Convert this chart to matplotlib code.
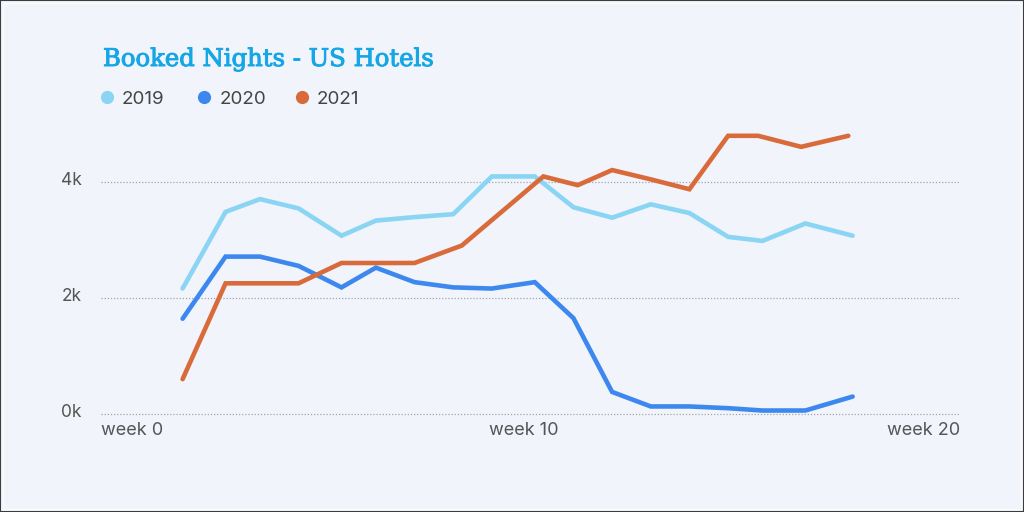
import matplotlib
matplotlib.use("Agg")
import matplotlib.pyplot as plt
import matplotlib.patheffects as pe
from matplotlib.patches import Rectangle
from matplotlib.transforms import ScaledTranslation

# ---- data ----
weeks = [1.9, 2.9, 3.7, 4.6, 5.6, 6.4, 7.3, 8.2, 9.1, 10.1, 11.0, 11.9, 12.8, 13.7, 14.6, 15.4, 16.4, 17.5]
nights_2019 = [2.16, 3.48, 3.70, 3.54, 3.07, 3.33, 3.39, 3.44, 4.09, 4.09, 3.56, 3.38, 3.61, 3.46, 3.05, 2.98, 3.28, 3.07]
nights_2020 = [1.64, 2.71, 2.71, 2.55, 2.18, 2.52, 2.27, 2.18, 2.16, 2.27, 1.65, 0.38, 0.13, 0.13, 0.10, 0.06, 0.06, 0.30]
weeks_2021 = [1.9, 2.9, 3.7, 4.6, 5.6, 6.4, 7.3, 8.4, 10.3, 11.1, 11.9, 12.8, 13.7, 14.6, 15.3, 16.3, 17.4]
nights_2021 = [0.60, 2.25, 2.25, 2.25, 2.60, 2.60, 2.60, 2.90, 4.09, 3.94, 4.20, 4.04, 3.87, 4.79, 4.79, 4.60, 4.79]

series_names = ["2019", "2020", "2021"]
colors = ["#8ad5f3", "#3d88ef", "#d96b3b"]
x_ticks = [0, 10, 20]
x_ticklabels = ["week 0", "week 10", "week 20"]
y_ticks = [0, 2, 4]
y_ticklabels = ["0k", "2k", "4k"]
title = "Booked Nights - US Hotels"

BG = "#f1f4fb"
W, H = 1024, 512
fig = plt.figure(figsize=(W / 100, H / 100), dpi=100, facecolor=BG)

# axes placement in pixels
left_px, right_px = 101, 960
bottom_px, top_px = 414, 123.6
ax = fig.add_axes([left_px / W, (H - bottom_px) / H,
                   (right_px - left_px) / W, (bottom_px - top_px) / H])
ax.set_facecolor(BG)
ax.set_xlim(0, 20)
ax.set_ylim(0, 5)

for s in ax.spines.values():
    s.set_visible(False)

# gridlines
for yv in y_ticks:
    ax.axhline(yv, color="#a3a5aa", linestyle=(0, (1, 1.5)), linewidth=0.9, zorder=1, clip_on=False)

lw = 3.3
ax.plot(weeks, nights_2019, color=colors[0], lw=lw, solid_joinstyle="miter", solid_capstyle="round", zorder=3)
ax.plot(weeks, nights_2020, color=colors[1], lw=lw, solid_joinstyle="miter", solid_capstyle="round", zorder=3)
ax.plot(weeks_2021, nights_2021, color=colors[2], lw=lw, solid_joinstyle="miter", solid_capstyle="round", zorder=4)

tick_font = "Inter"
ax.set_xticks(x_ticks)
ax.set_xticklabels(x_ticklabels, fontsize=13, color="#555555", family=tick_font)
ax.tick_params(axis="x", length=0, pad=6)
xl = ax.get_xticklabels()
xl[0].set_horizontalalignment("left")
xl[-1].set_horizontalalignment("right")
xl[1].set_transform(xl[1].get_transform() + ScaledTranslation(-7 / 100, 0, fig.dpi_scale_trans))

ax.set_yticks(y_ticks)
ax.set_yticklabels(y_ticklabels, fontsize=12.5, color="#555555", family=tick_font)
ax.tick_params(axis="y", length=0, pad=14)
for lab in ax.get_yticklabels():
    lab.set_transform(lab.get_transform() + ScaledTranslation(0, 3.5 / 100, fig.dpi_scale_trans))

# title
fig.text(103 / W, (H - 66) / H, title, family="DejaVu Serif",
         fontsize=17.5, color="#15a6e6", va="baseline", ha="left",
         path_effects=[pe.withStroke(linewidth=0.7, foreground="#15a6e6")])

# legend
leg_dot_x = [106.5, 204.3, 301.7]
for name, c, dx in zip(series_names, colors, leg_dot_x):
    fig.add_artist(plt.Line2D([dx / W], [(H - 97) / H], marker="o", markersize=9.5,
                              color=c, markeredgewidth=0, linestyle="none"))
    fig.text((dx + 15) / W, (H - 103.5) / H, name, family=tick_font, fontsize=13.5,
             color="#444444", va="baseline", ha="left")

# frame
fig.add_artist(Rectangle((0, 0), 1, 1, transform=fig.transFigure, fill=False,
                         edgecolor="#3c3c3c", linewidth=1.5))
fig.add_artist(Rectangle((3 / W, 3 / H), 1 - 6 / W, 1 - 6 / H, transform=fig.transFigure,
                         fill=False, edgecolor="#fbfbfd", linewidth=1.0))

fig.savefig("out.png", dpi=100, facecolor=BG)
